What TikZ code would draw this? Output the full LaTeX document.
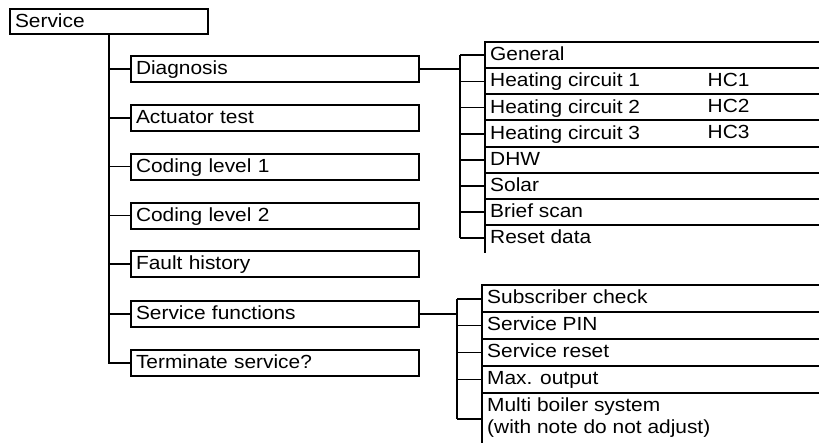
\documentclass[tikz,border=0pt]{standalone}
\usepackage{fontspec}
\setmainfont{Liberation Sans}[FakeStretch=1.1]
\begin{document}
\begin{tikzpicture}[x=1pt,y=-1pt,
  font=\fontsize{19pt}{22pt}\selectfont,
  box/.style={draw, line width=2pt, anchor=north west, inner xsep=5pt, inner ysep=0pt,
    text height=18.5pt, text depth=7.5pt, minimum height=26pt, text width=278pt, align=left},
  rowtext/.style={anchor=north west, inner xsep=5pt, inner ysep=0pt,
    text height=18.5pt, text depth=7.65pt},
  rowtextb/.style={anchor=north west, inner xsep=5pt, inner ysep=0pt,
    text height=18.5pt, text depth=8.4pt},
  hc/.style={anchor=base west, inner sep=0pt},
  tree/.style={line width=1.7pt},
  link/.style={line width=1.2pt},
  rule/.style={line width=2pt, line cap=rect}]
\useasboundingbox (0,0) rectangle (819,442);
\coordinate (E) at (819,0);

% main menu
\node[box, text width=188pt, text depth=6.5pt, minimum height=25pt] (svc) at (9,8) {Service};
\node[box] (diag) at (130,55) {Diagnosis};
\node[box] (act) at (130,104) {Actuator test};
\node[box] (cod1) at (130,152.5) {Coding level 1};
\node[box] (cod2) at (130,201.5) {Coding level 2};
\node[box] (fault) at (130,250) {Fault history};
\node[box] (sf) at (130,300) {Service functions};
\node[box] (term) at (130,349) {Terminate service?};

\draw[tree] (svc.south) |- (term.west);
\foreach \n in {diag,act,cod1,cod2,fault,sf}
  \draw[tree] (svc.south |- \n.west) -- (\n.west);

% diagnosis submenu
\node[rowtext] (g1) at (485,42) {General};
\node[rowtext] (g2) at (485,68.15) {Heating circuit 1};
\node[rowtext] (g3) at (485,94.3) {Heating circuit 2};
\node[rowtext] (g4) at (485,120.45) {Heating circuit 3};
\node[rowtext] (g5) at (485,146.6) {DHW};
\node[rowtext] (g6) at (485,172.75) {Solar};
\node[rowtext] (g7) at (485,198.9) {Brief scan};
\node[rowtext] (g8) at (485,225.05) {Reset data};
\node[hc] (hc1) at (707.5,86.65) {HC1};
\node[hc] (hc2) at (707.5,112.8) {HC2};
\node[hc] (hc3) at (707.5,138.95) {HC3};

\foreach \n in {g1,g2,g3,g4,g5,g6,g7,g8}
  \draw[rule] (\n.north west) -- (\n.north west -| E);
\draw[rule] (g1.north west) -- (g8.south west);

\coordinate (dv) at (460,0);
\draw[tree] (dv |- g1.west) -- (dv |- g8.west);
\foreach \n in {g1,g2,g3,g4,g5,g6,g7,g8}
  \draw[tree] (dv |- \n.west) -- (\n.west);
\draw[link] (diag.east) -- (dv |- diag.east);

% service functions submenu
\node[rowtextb] (s1) at (482,285) {Subscriber check};
\node[rowtextb] (s2) at (482,311.9) {Service PIN};
\node[rowtextb] (s3) at (482,338.8) {Service reset};
\node[rowtextb] (s4) at (482,365.7) {Max. output};
\node[rowtext] (s5) at (482,392.6) {Multi boiler system};
\node[rowtext] (s6) at (482,414.6) {(with note do not adjust)};
\coordinate (s5b) at (482,419);
\coordinate (sfend) at (482,442);

\foreach \n in {s1,s2,s3,s4,s5}
  \draw[rule] (\n.north west) -- (\n.north west -| E);
\draw[rule] (s1.north west) -- (sfend);

\coordinate (sv) at (457,0);
\draw[tree] (sv |- s1.west) -- (sv |- s5b);
\foreach \n in {s1,s2,s3,s4}
  \draw[tree] (sv |- \n.west) -- (\n.west);
\draw[tree] (sv |- s5b) -- (s5b);
\draw[link] (sf.east) -- (sv |- sf.east);
\end{tikzpicture}
\end{document}
